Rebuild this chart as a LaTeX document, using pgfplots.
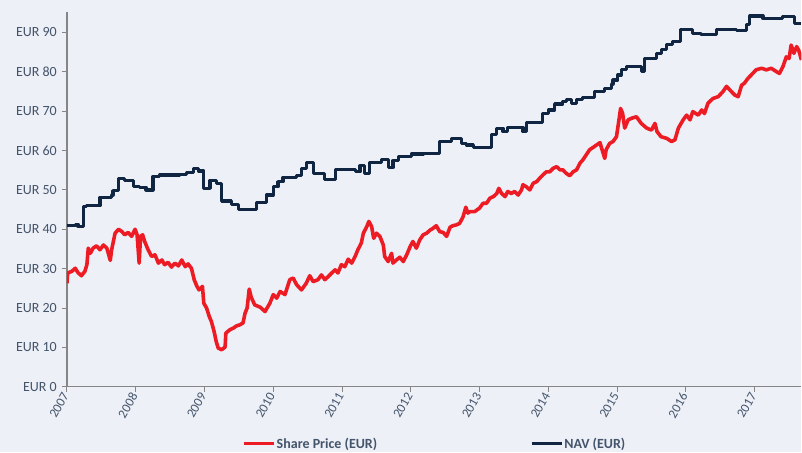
\documentclass[border=0pt]{standalone}
\usepackage{fontspec}
\setmainfont{Carlito}
\usepackage{pgfplots}
\pgfplotsset{compat=1.18}
\definecolor{bgcol}{RGB}{237,240,247}
\definecolor{txt}{RGB}{68,84,106}
\definecolor{axisgray}{RGB}{134,134,134}
\definecolor{shred}{RGB}{237,28,36}
\definecolor{navnavy}{RGB}{16,37,66}

\begin{document}
\begin{tikzpicture}
\fill[bgcol] (0bp,0bp) rectangle (802bp,452bp);
\begin{axis}[
  at={(67bp,65bp)}, anchor=south west,
  scale only axis, width=735bp, height=375bp,
  xmin=2007, xmax=2017.68, ymin=0, ymax=95.2,
  axis x line*=bottom, axis y line*=left,
  axis line style={axisgray, line width=1.1bp, -},
  tick align=outside, major tick length=5bp,
  tick style={axisgray, line width=1bp},
  xtick={2007,...,2017},
  xticklabels={2007,2008,2009,2010,2011,2012,2013,2014,2015,2016,2017},
  xticklabel style={rotate=60, anchor=east, font=\fontsize{13bp}{15bp}\selectfont, text=txt, inner sep=2.5bp},
  ytick={0,10,...,90},
  yticklabel={EUR \pgfmathprintnumber{\tick}},
  yticklabel style={font=\fontsize{14bp}{16bp}\selectfont, text=txt, inner sep=2bp, xshift=-3bp},
  /pgf/number format/assume math mode=true,
  legend columns=2,
  legend style={at={(0.5,-0.152)}, anchor=center, draw=none, fill=none,
    font=\bfseries\fontsize{14bp}{16bp}\selectfont, text=txt,
    /tikz/every even column/.append style={column sep=152bp},
    nodes={inner sep=1bp}},
  legend image code/.code={\draw[#1] (0bp,0bp) -- (30bp,0bp);},
]
\addplot[shred, line width=3.6bp, line join=round] coordinates {
(2007.00,26.3) (2007.01,28.9) (2007.07,29.3) (2007.12,30.1) (2007.16,29.0)
(2007.21,28.2) (2007.26,29.3) (2007.29,31.0) (2007.31,35.2) (2007.34,33.9)
(2007.38,35.2) (2007.43,35.8) (2007.48,34.8) (2007.53,36.0) (2007.58,35.2)
(2007.63,32.1) (2007.65,34.8) (2007.70,39.0) (2007.75,40.0) (2007.80,39.4)
(2007.84,38.6) (2007.89,39.2) (2007.94,38.2) (2007.99,40.0) (2008.02,38.6)
(2008.05,31.4) (2008.07,38.2) (2008.10,38.6) (2008.13,36.9) (2008.18,34.8)
(2008.23,33.1) (2008.28,33.5) (2008.33,31.4) (2008.38,32.2) (2008.42,31.0)
(2008.47,31.6) (2008.52,30.4) (2008.57,31.4) (2008.62,30.7) (2008.67,32.2)
(2008.72,30.5) (2008.76,31.2) (2008.81,30.1) (2008.85,27.2) (2008.89,25.5)
(2008.92,24.6) (2008.97,25.5) (2008.99,21.2) (2009.03,20.0) (2009.07,17.8)
(2009.10,16.6) (2009.14,14.0) (2009.17,11.5) (2009.20,9.8) (2009.25,9.4)
(2009.30,10.1) (2009.31,13.6) (2009.37,14.5) (2009.42,14.9) (2009.47,15.5)
(2009.51,15.7) (2009.56,16.2) (2009.59,18.7) (2009.62,20.0) (2009.65,24.8)
(2009.68,22.7) (2009.73,20.8) (2009.81,20.2) (2009.88,19.1) (2009.95,21.2)
(2010.00,23.4) (2010.05,22.5) (2010.10,24.2) (2010.17,23.4) (2010.24,27.2)
(2010.29,27.6) (2010.34,25.9) (2010.41,24.6) (2010.48,26.3) (2010.53,28.2)
(2010.58,26.7) (2010.65,27.2) (2010.70,28.4) (2010.75,27.2) (2010.80,28.0)
(2010.85,28.9) (2010.90,29.7) (2010.94,28.9) (2010.99,31.0) (2011.04,30.5)
(2011.09,32.4) (2011.14,31.4) (2011.19,33.1) (2011.23,34.8) (2011.28,36.5)
(2011.31,39.0) (2011.36,40.7) (2011.39,42.0) (2011.43,40.7) (2011.46,37.7)
(2011.50,39.0) (2011.55,38.2) (2011.60,36.0) (2011.62,33.1) (2011.67,31.8)
(2011.72,33.9) (2011.74,31.4) (2011.79,32.2) (2011.84,32.9) (2011.89,31.8)
(2011.94,33.5) (2011.99,35.6) (2012.03,36.9) (2012.08,35.2) (2012.13,37.3)
(2012.18,38.6) (2012.23,39.0) (2012.28,39.8) (2012.32,40.2) (2012.37,40.9)
(2012.42,39.4) (2012.47,39.2) (2012.52,38.2) (2012.57,40.5) (2012.61,40.9)
(2012.66,41.1) (2012.71,41.5) (2012.76,43.2) (2012.80,45.6) (2012.83,44.1)
(2012.86,44.5) (2012.93,44.5) (2013.00,45.4) (2013.05,46.6) (2013.10,46.6)
(2013.15,47.9) (2013.20,48.3) (2013.25,49.1) (2013.28,50.4) (2013.32,49.1)
(2013.37,48.3) (2013.41,49.6) (2013.46,49.1) (2013.51,49.6) (2013.56,48.7)
(2013.61,50.0) (2013.63,51.3) (2013.68,50.8) (2013.73,50.0) (2013.78,51.7)
(2013.83,52.1) (2013.87,52.9) (2013.92,53.8) (2013.97,54.6) (2014.02,54.6)
(2014.07,55.5) (2014.12,55.9) (2014.17,55.1) (2014.21,55.1) (2014.26,54.2)
(2014.31,53.6) (2014.36,54.6) (2014.41,55.1) (2014.46,56.8) (2014.50,57.6)
(2014.55,58.9) (2014.60,60.2) (2014.65,60.8) (2014.70,61.4) (2014.75,62.0)
(2014.79,59.7) (2014.82,58.0) (2014.84,60.2) (2014.89,61.8) (2014.94,62.3)
(2014.99,63.5) (2015.03,68.2) (2015.05,70.7) (2015.08,69.4) (2015.11,65.7)
(2015.16,67.8) (2015.21,68.2) (2015.28,68.6) (2015.35,66.9) (2015.43,65.7)
(2015.50,65.2) (2015.55,66.9) (2015.58,64.8) (2015.64,63.5) (2015.72,63.1)
(2015.79,62.3) (2015.84,62.7) (2015.89,65.7) (2015.96,67.8) (2016.01,69.0)
(2016.06,67.8) (2016.10,69.9) (2016.18,69.0) (2016.23,70.3) (2016.27,69.4)
(2016.32,72.0) (2016.39,73.2) (2016.47,73.7) (2016.54,75.0) (2016.59,76.3)
(2016.66,75.0) (2016.71,74.1) (2016.76,73.7) (2016.81,76.6) (2016.85,77.1)
(2016.90,78.3) (2016.95,79.2) (2017.02,80.5) (2017.10,80.9) (2017.17,80.5)
(2017.24,80.9) (2017.32,80.0) (2017.36,79.6) (2017.41,81.3) (2017.46,83.8)
(2017.50,83.4) (2017.53,86.8) (2017.57,84.7) (2017.61,86.4) (2017.64,85.5)
(2017.68,83.0)
};
\addlegendentry{Share Price (EUR)}
\addplot[navnavy, line width=3.2bp, const plot, line join=round] coordinates {
(2007.00,40.9) (2007.12,41.3) (2007.16,40.8) (2007.24,45.8) (2007.29,46.0)
(2007.48,48.1) (2007.65,48.7) (2007.67,49.8) (2007.75,53.0) (2007.84,52.3)
(2007.97,50.8) (2008.06,50.6) (2008.15,50.0) (2008.25,53.4) (2008.35,53.8)
(2008.64,54.0) (2008.74,54.5) (2008.84,55.4) (2008.91,54.8) (2008.99,50.4)
(2009.08,52.4) (2009.18,51.7) (2009.25,47.2) (2009.39,46.2) (2009.49,45.1)
(2009.76,46.8) (2009.90,48.7) (2010.00,50.8) (2010.07,52.1) (2010.14,53.2)
(2010.34,53.6) (2010.41,55.5) (2010.48,56.9) (2010.58,54.2) (2010.75,52.7)
(2010.90,55.1) (2011.19,54.6) (2011.26,56.1) (2011.33,54.1) (2011.40,56.9)
(2011.57,57.8) (2011.67,55.7) (2011.74,57.4) (2011.82,58.5) (2012.01,59.1)
(2012.18,59.3) (2012.42,62.3) (2012.59,63.1) (2012.74,61.8) (2012.81,61.4)
(2012.91,60.8) (2013.17,64.0) (2013.25,65.7) (2013.34,64.8) (2013.41,65.9)
(2013.63,64.8) (2013.68,67.1) (2013.92,69.4) (2014.00,70.3) (2014.09,71.8)
(2014.21,72.4) (2014.26,73.0) (2014.34,72.0) (2014.41,73.0) (2014.50,73.5)
(2014.67,75.0) (2014.82,75.8) (2014.92,76.9) (2014.94,77.9) (2015.01,79.2)
(2015.06,80.5) (2015.14,81.3) (2015.35,80.0) (2015.40,83.4) (2015.57,84.7)
(2015.64,85.7) (2015.72,86.9) (2015.81,87.6) (2015.92,90.8) (2016.10,89.7)
(2016.22,89.5) (2016.44,90.8) (2016.73,90.5) (2016.88,92.1) (2016.93,94.2)
(2017.12,93.6) (2017.41,94.0) (2017.58,92.3) (2017.68,92.3)
};
\addlegendentry{NAV (EUR)}
\end{axis}
\end{tikzpicture}
\end{document}
